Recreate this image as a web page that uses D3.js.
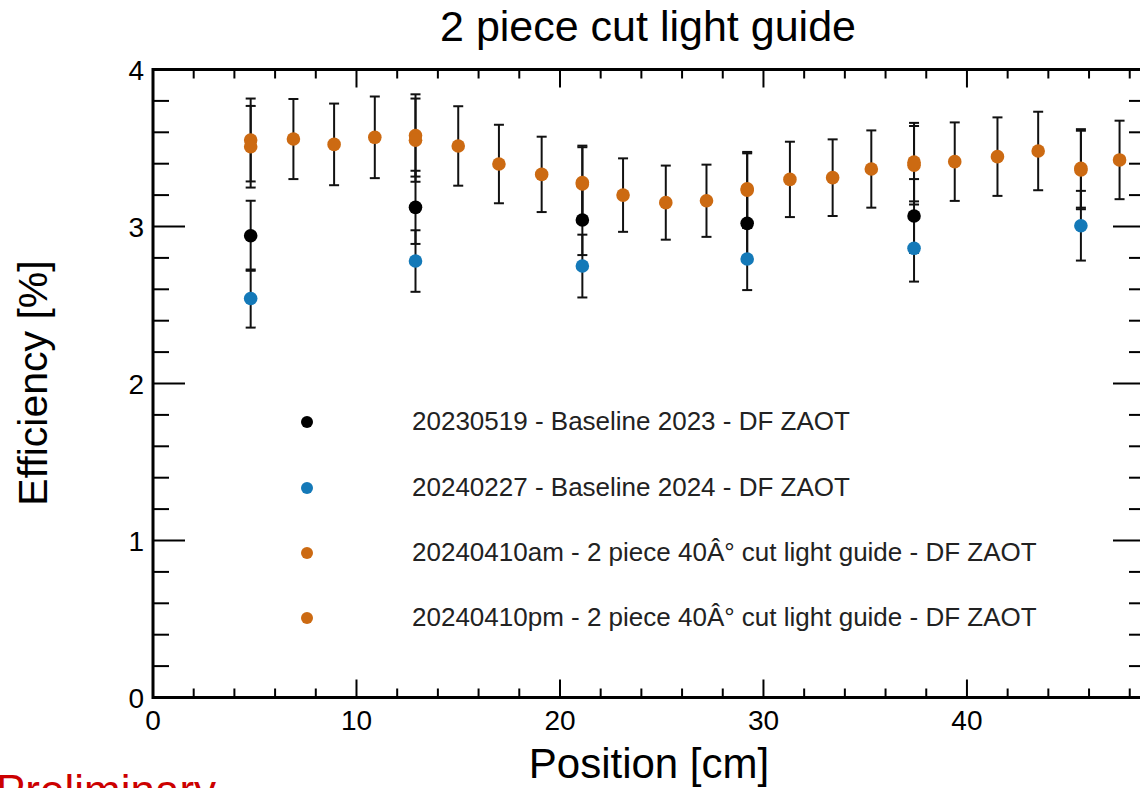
<!DOCTYPE html>
<html>
<head>
<meta charset="utf-8">
<script src="https://cdn.jsdelivr.net/npm/d3@7"></script>
<style>
  html, body { margin: 0; padding: 0; background: #fff; overflow: hidden; }
  svg { display: block; }
  text { font-family: "Liberation Sans", Arial, Helvetica, sans-serif; }
</style>
</head>
<body>
<svg id="chart" width="1140" height="788"></svg>
<script>
// Scan positions along the light guide [cm]
const posAll = [4.8, 6.9, 8.9, 10.9, 12.9, 15.0, 17.0, 19.1, 21.1, 23.1, 25.2,
                27.2, 29.2, 31.3, 33.4, 35.3, 37.4, 39.4, 41.5, 43.5, 45.6, 47.5];
const posSparse = [4.8, 12.9, 21.1, 29.2, 37.4, 45.6];

// Efficiency [%] and its uncertainty for each run
const base2023Pos = [4.8, 12.9, 21.1, 29.2, 37.4];
const base2023Eff = [2.941, 3.122, 3.041, 3.020, 3.067];
const base2023Err = [0.223, 0.233, 0.223, 0.220, 0.235];

const base2024Eff = [2.541, 2.780, 2.748, 2.793, 2.861, 3.005];
const base2024Err = [0.185, 0.196, 0.200, 0.198, 0.212, 0.222];

const amEff = [3.551, 3.557, 3.523, 3.568, 3.580, 3.513, 3.398, 3.332, 3.271, 3.200, 3.152,
               3.164, 3.232, 3.300, 3.311, 3.366, 3.390, 3.413, 3.445, 3.481, 3.360, 3.424];
const amErr = [0.264, 0.255, 0.260, 0.260, 0.262, 0.253, 0.250, 0.240, 0.234, 0.234, 0.236,
               0.230, 0.234, 0.240, 0.244, 0.246, 0.250, 0.250, 0.250, 0.250, 0.250, 0.250];

const pmEff = [3.508, 3.550, 3.280, 3.240, 3.410, 3.370];
const pmErr = [0.260, 0.265, 0.235, 0.235, 0.250, 0.250];

const seriesLabels = [
  "20230519 - Baseline 2023 - DF ZAOT",
  "20240227 - Baseline 2024 - DF ZAOT",
  "20240410am - 2 piece 40Â° cut light guide - DF ZAOT",
  "20240410pm - 2 piece 40Â° cut light guide - DF ZAOT"
];
const seriesColors = ["#000000", "#1479b8", "#cc6a12", "#cc6a12"];

const xTicks = [0, 10, 20, 30, 40];
const yTicks = [0, 1, 2, 3, 4];

const titleText = "2 piece cut light guide";
const xTitle = "Position [cm]";
const yTitle = "Efficiency [%]";
const stampText = "Preliminary";

const zip = (xs, ys, es) => xs.map((x, i) => ({x, y: ys[i], e: es[i]}));
const series = [
  zip(base2023Pos, base2023Eff, base2023Err),
  zip(posSparse, base2024Eff, base2024Err),
  zip(posAll, amEff, amErr),
  zip(posSparse, pmEff, pmErr)
];

// Frame
const frame = {left: 153, right: 1145, top: 69.5, bottom: 697.5};
const x = d3.scaleLinear().domain([0, 48.75]).range([frame.left, frame.right]);
const y = d3.scaleLinear().domain([0, 4]).range([frame.bottom, frame.top]);

const svg = d3.select("#chart");

// Data layer: error bars first, then markers on top
const plot = svg.append("g");
series.forEach(pts => {
  const g = plot.append("g").attr("stroke", "#111").attr("stroke-width", 2);
  g.selectAll("line.bar").data(pts).join("line")
    .attr("x1", d => x(d.x)).attr("x2", d => x(d.x))
    .attr("y1", d => y(d.y - d.e)).attr("y2", d => y(d.y + d.e));
  [1, -1].forEach(s => {
    g.append("g").selectAll("line").data(pts).join("line")
      .attr("x1", d => x(d.x) - 5).attr("x2", d => x(d.x) + 5)
      .attr("y1", d => y(d.y + s * d.e)).attr("y2", d => y(d.y + s * d.e));
  });
});
series.forEach((pts, si) => {
  plot.append("g").selectAll("circle").data(pts).join("circle")
    .attr("cx", d => x(d.x)).attr("cy", d => y(d.y))
    .attr("r", 6.8).attr("fill", seriesColors[si]);
});

// Axes with ticks on all four sides
const axes = svg.append("g").attr("stroke", "#000");
const xMinor = d3.range(0, 48.75, 2);
const yMinor = d3.range(0, 4.0001, 0.2);
const isMajorX = v => Math.abs(v % 10) < 1e-6;
const isMajorY = v => Math.abs(v - Math.round(v)) < 1e-6;

axes.selectAll("line.xb").data(xMinor).join("line")
  .attr("x1", d => x(d)).attr("x2", d => x(d))
  .attr("y1", frame.bottom).attr("y2", d => frame.bottom - (isMajorX(d) ? 18 : 9))
  .attr("stroke-width", 2);
axes.selectAll("line.xt").data(xMinor).join("line")
  .attr("x1", d => x(d)).attr("x2", d => x(d))
  .attr("y1", frame.top).attr("y2", d => frame.top + (isMajorX(d) ? 18 : 9))
  .attr("stroke-width", 2);
axes.selectAll("line.yl").data(yMinor).join("line")
  .attr("x1", frame.left).attr("x2", d => frame.left + (isMajorY(d) ? 32 : 16))
  .attr("y1", d => y(d)).attr("y2", d => y(d))
  .attr("stroke-width", 2);
axes.selectAll("line.yr").data(yMinor).join("line")
  .attr("x1", frame.right).attr("x2", d => frame.right - (isMajorY(d) ? 32 : 16))
  .attr("y1", d => y(d)).attr("y2", d => y(d))
  .attr("stroke-width", 2);
axes.append("rect")
  .attr("x", frame.left).attr("y", frame.top)
  .attr("width", frame.right - frame.left).attr("height", frame.bottom - frame.top)
  .attr("fill", "none").attr("stroke-width", 3);

// Tick labels
svg.append("g").selectAll("text").data(xTicks).join("text")
  .attr("x", d => x(d)).attr("y", 730)
  .attr("text-anchor", "middle").attr("font-size", 28)
  .text(d => d);
svg.append("g").selectAll("text").data(yTicks).join("text")
  .attr("x", 144).attr("y", d => y(d) + 10)
  .attr("text-anchor", "end").attr("font-size", 28)
  .text(d => d);

// Titles
svg.append("text").attr("x", 648).attr("y", 41)
  .attr("text-anchor", "middle").attr("font-size", 43).text(titleText);
svg.append("text").attr("x", 649).attr("y", 778)
  .attr("text-anchor", "middle").attr("font-size", 42).text(xTitle);
svg.append("text").attr("transform", "translate(47,383) rotate(-90)")
  .attr("text-anchor", "middle").attr("font-size", 41).text(yTitle);

// Legend
const legendRows = [422, 488, 553, 618];
const legend = svg.append("g");
legend.selectAll("circle").data(seriesLabels).join("circle")
  .attr("cx", 307).attr("cy", (d, i) => legendRows[i]).attr("r", 6)
  .attr("fill", (d, i) => seriesColors[i]);
legend.selectAll("text").data(seriesLabels).join("text")
  .attr("x", 412).attr("y", (d, i) => legendRows[i] + 8)
  .attr("font-size", 26).attr("fill", "#222")
  .text(d => d);

// Stamp
svg.append("text").attr("x", -4).attr("y", 806)
  .attr("font-size", 44).attr("fill", "#cc0000").text(stampText);
</script>
</body>
</html>
